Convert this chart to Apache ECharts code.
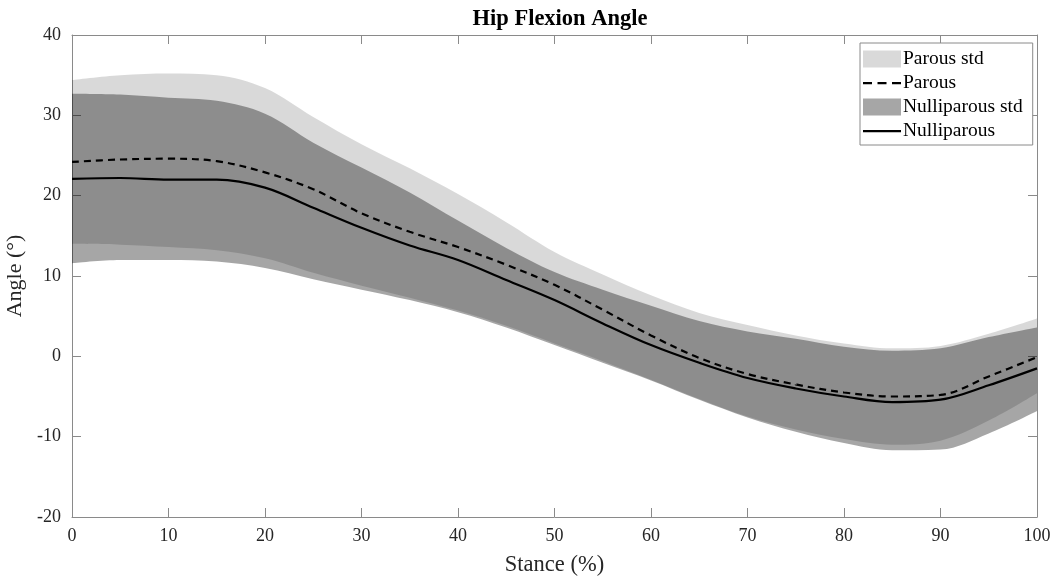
<!DOCTYPE html>
<html>
<head>
<meta charset="utf-8">
<script src="https://cdn.jsdelivr.net/npm/echarts@6/dist/echarts.min.js"></script>
<style>
html,body{margin:0;padding:0;background:#fff;}
#chart{width:1060px;height:586px;}
</style>
</head>
<body>
<div id="chart"></div>
<script>
// Stance (%) sample positions (category axis, ticks/labels every 10 %)
const stance = [0,5,10,15,20,25,30,35,40,45,50,55,60,65,70,75,80,85,90,95,100];
// Parous
const parousMean  = [24.2,24.5,24.6,24.3,22.9,20.8,17.8,15.5,13.6,11.4,8.9,5.8,2.6,-0.2,-2.2,-3.5,-4.5,-5.0,-4.8,-2.5,-0.1];
const parousUpper = [34.4,35.0,35.2,35.0,33.4,29.8,26.4,23.4,20.2,16.7,13.0,10.2,7.6,5.4,3.9,2.6,1.6,1.0,1.3,2.8,4.7];
const parousLower = [14.0,13.9,13.6,13.2,12.2,10.4,8.8,7.3,5.7,3.8,1.6,-0.6,-2.9,-5.3,-7.5,-9.1,-10.3,-11.0,-10.5,-8.0,-4.6];
// Nulliparous
const nulliMean  = [22.1,22.2,22.0,22.0,21.0,18.5,16.0,13.8,12.0,9.5,7.0,4.1,1.4,-0.8,-2.7,-4.0,-5.0,-5.7,-5.4,-3.6,-1.5];
const nulliUpper = [32.7,32.6,32.2,31.8,30.2,26.6,23.5,20.4,16.9,13.5,10.5,8.3,6.3,4.4,3.1,2.2,1.2,0.7,1.0,2.4,3.6];
const nulliLower = [11.6,12.0,12.0,11.8,11.0,9.6,8.3,7.0,5.5,3.6,1.4,-0.8,-3.0,-5.4,-7.6,-9.4,-10.8,-11.7,-11.6,-9.6,-6.8];
// Y axis ticks
const yTicks = {min:-20,max:40,interval:10};

const diffs = (hi, lo) => hi.map((v,i)=> +(v-lo[i]).toFixed(2));

const FONT = '"Liberation Serif","Times New Roman",serif';
const axisGray = '#8a8a8a';
const SM = 0.35;
const everyOther = (i) => i % 2 === 0;

// legend line icons (38x17 box; corner specks keep the box size)
const corners = 'M0,0h0.01v0.01h-0.01z M37.99,16.99h0.01v0.01h-0.01z ';
const dashIcon = 'path://' + corners + 'M0,7.4h9v2.3h-9z M14.5,7.4h9v2.3h-9z M29,7.4h9v2.3h-9z';
const solidIcon = 'path://' + corners + 'M0,7.4h38v2.3h-38z';

const chart = echarts.init(document.getElementById('chart'));
const hidden = {opacity:0};
const catAxis = (pos, show) => ({
  type:'category',position:pos,data:stance,boundaryGap:false,
  axisLine:{show:true,onZero:false,lineStyle:{color:axisGray}},
  axisTick:{show:true,inside:true,length:9,interval:(i)=>everyOther(i),alignWithLabel:true,lineStyle:{color:axisGray}},
  axisLabel:{show:show,interval:(i)=>everyOther(i),fontFamily:FONT,fontSize:18,color:'#262626',margin:10},
  splitLine:{show:false}
});
const valAxis = (pos, show) => ({
  type:'value',position:pos,min:yTicks.min,max:yTicks.max,interval:yTicks.interval,
  axisLine:{show:true,onZero:false,lineStyle:{color:axisGray}},
  axisTick:{show:true,inside:true,length:9,lineStyle:{color:axisGray}},
  axisLabel:{show:show,fontFamily:FONT,fontSize:18,color:'#262626',margin:11},
  splitLine:{show:false}
});
const xBottom = Object.assign(catAxis('bottom', true), {
  name:'Stance (%)',nameLocation:'middle',nameGap:37,
  nameTextStyle:{fontFamily:FONT,fontSize:22.5,color:'#262626'}});
const yLeft = Object.assign(valAxis('left', true), {
  name:'Angle (°)',nameLocation:'middle',nameGap:39,
  nameTextStyle:{fontFamily:FONT,fontSize:22,color:'#262626'}});

chart.setOption({
  animation:false,
  backgroundColor:'#fff',
  title:{text:'Hip Flexion Angle',left:555,textAlign:'center',top:3,
    textStyle:{fontFamily:FONT,fontWeight:'bold',fontSize:22.5,color:'#000'}},
  grid:{left:72,right:23,top:35,bottom:69,containLabel:false,outerBoundsMode:'none'},
  legend:{
    orient:'vertical',left:860,top:43,
    backgroundColor:'#fff',borderColor:axisGray,borderWidth:1,
    padding:[6,10,4,3],itemGap:4,itemWidth:38,itemHeight:17,
    textStyle:{fontFamily:FONT,fontSize:19.5,color:'#000',padding:[0,0,0,-3]},
    data:[
      {name:'Parous std',icon:'rect',itemStyle:{color:'#d9d9d9',opacity:1}},
      {name:'Parous',icon:dashIcon,itemStyle:{color:'#000',opacity:1}},
      {name:'Nulliparous std',icon:'rect',itemStyle:{color:'#a6a6a6',opacity:1}},
      {name:'Nulliparous',icon:solidIcon,itemStyle:{color:'#000',opacity:1}}
    ]
  },
  xAxis:[xBottom, catAxis('top', false)],
  yAxis:[yLeft, valAxis('right', false)],
  series:[
    {name:'pBase',type:'line',stack:'p',stackStrategy:'all',data:parousLower,symbol:'none',smooth:SM,
      lineStyle:hidden,silent:true,z:1},
    {name:'Parous std',type:'line',stack:'p',stackStrategy:'all',data:diffs(parousUpper,parousLower),symbol:'none',smooth:SM,
      lineStyle:hidden,areaStyle:{color:'#000',opacity:0.15},itemStyle:{color:'#d9d9d9'},silent:true,z:1},
    {name:'nBase',type:'line',stack:'n',stackStrategy:'all',data:nulliLower,symbol:'none',smooth:SM,
      lineStyle:hidden,silent:true,z:2},
    {name:'Nulliparous std',type:'line',stack:'n',stackStrategy:'all',data:diffs(nulliUpper,nulliLower),symbol:'none',smooth:SM,
      lineStyle:hidden,areaStyle:{color:'#000',opacity:0.35},itemStyle:{color:'#a6a6a6'},silent:true,z:2},
    {name:'Parous',type:'line',data:parousMean,symbol:'none',smooth:SM,
      lineStyle:{color:'#000',width:2.2,type:[7,5]},itemStyle:{color:'#000'},z:5},
    {name:'Nulliparous',type:'line',data:nulliMean,symbol:'none',smooth:SM,
      lineStyle:{color:'#000',width:2.2},itemStyle:{color:'#000'},z:5}
  ]
});
</script>
</body>
</html>
